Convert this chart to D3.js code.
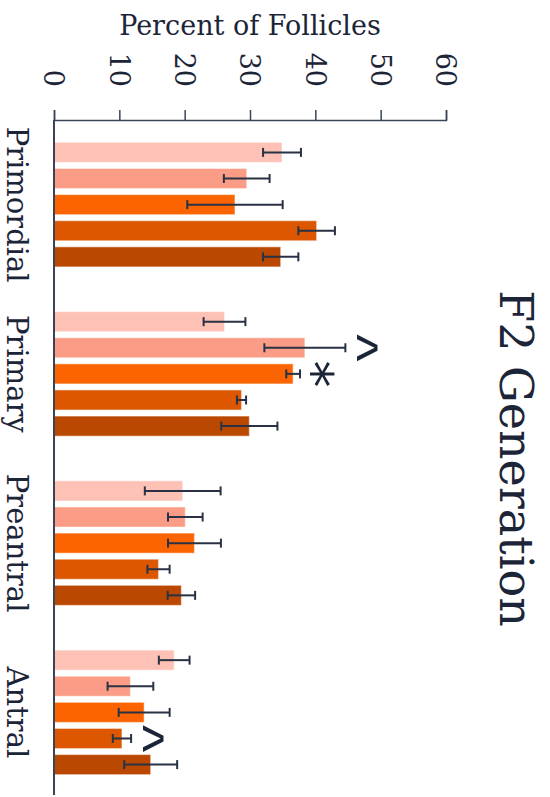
<!DOCTYPE html>
<html>
<head>
<meta charset="utf-8">
<script src="https://cdn.jsdelivr.net/npm/d3@7"></script>
<style>
  html, body { margin: 0; padding: 0; background: #fff; }
  svg { display: block; }
</style>
</head>
<body>
<div class="chart"></div>
<script>
// follicle stages (one group of bars each)
const categories = ['Primordial', 'Primary', 'Preantral', 'Antral'];
// five treatment series per stage, light to dark
const seriesKeys = ['s1', 's2', 's3', 's4', 's5'];
const seriesColors = ['#fdc1b5', '#fb9c86', '#fb6400', '#dc5700', '#bb4800'];

// mean percent, rows follow categories, columns follow seriesKeys
const means = [
  [34.9, 29.5, 27.7, 40.2, 34.7],
  [26.1, 38.4, 36.6, 28.7, 29.9],
  [19.7, 20.1, 21.5, 16.0, 19.5],
  [18.4, 11.7, 13.8, 10.4, 14.8]
];
// +/- error
const errors = [
  [2.9, 3.5, 7.3, 2.8, 2.7],
  [3.2, 6.2, 1.05, 0.7, 4.3],
  [5.8, 2.65, 4.05, 1.7, 2.1],
  [2.35, 3.5, 3.9, 1.4, 4.05]
];
const xTicks = [0, 10, 20, 30, 40, 50, 60];

// significance marks: category, series, symbol
const marks = [
  { cat: 'Primary', key: 's2', symbol: '^' },
  { cat: 'Primary', key: 's3', symbol: '*' },
  { cat: 'Antral', key: 's4', symbol: '^' }
];

const width = 550, height = 797;
const textColor = '#1c2538';
const axisColor = '#3a4356';
const serif = '"DejaVu Serif", serif';

const rows = [];
categories.forEach((c, i) => {
  seriesKeys.forEach((k, j) => {
    rows.push({ cat: c, key: k, value: means[i][j], err: errors[i][j] });
  });
});

const svg = d3.select('.chart').append('svg')
  .attr('width', width)
  .attr('height', height);

const x = d3.scaleLinear().domain([0, 60]).range([54, 446]);
const y0 = d3.scaleBand().domain(categories).range([120, 797])
  .paddingInner(0.264).paddingOuter(0.132);
const y1 = d3.scaleBand().domain(seriesKeys).range([0, y0.bandwidth()])
  .paddingInner(0.23).paddingOuter(0);
const color = d3.scaleOrdinal().domain(seriesKeys).range(seriesColors);

// bars
const groups = svg.append('g')
  .selectAll('g')
  .data(categories)
  .enter().append('g')
  .attr('transform', d => 'translate(0,' + y0(d) + ')');

groups.selectAll('rect')
  .data(c => rows.filter(r => r.cat === c))
  .enter().append('rect')
  .attr('x', x(0))
  .attr('y', d => y1(d.key))
  .attr('width', d => x(d.value) - x(0))
  .attr('height', y1.bandwidth())
  .attr('fill', d => color(d.key))
  .attr('stroke', '#fff')
  .attr('stroke-opacity', 0.45)
  .attr('stroke-width', 1.2);

// error bars
const eb = groups.selectAll('g.err')
  .data(c => rows.filter(r => r.cat === c))
  .enter().append('g')
  .attr('class', 'err')
  .attr('stroke', '#283244')
  .attr('stroke-width', 2)
  .attr('transform', d => 'translate(0,' + (y1(d.key) + y1.bandwidth() / 2) + ')');

eb.append('line')
  .attr('x1', d => x(d.value - d.err))
  .attr('x2', d => x(d.value + d.err));
eb.append('line')
  .attr('x1', d => x(d.value - d.err)).attr('x2', d => x(d.value - d.err))
  .attr('y1', -4.5).attr('y2', 4.5);
eb.append('line')
  .attr('x1', d => x(d.value + d.err)).attr('x2', d => x(d.value + d.err))
  .attr('y1', -4.5).attr('y2', 4.5);

// value axis along the top
const axis = svg.append('g')
  .attr('transform', 'translate(0,120)')
  .call(d3.axisTop(x).tickValues(xTicks).tickSize(10).tickSizeOuter(10));
axis.select('.domain').attr('stroke', axisColor).attr('stroke-width', 1.5);
axis.selectAll('.tick line').attr('stroke', axisColor).attr('stroke-width', 1.5);
axis.selectAll('.tick text')
  .attr('fill', textColor)
  .attr('font-family', serif)
  .attr('font-size', 27)
  .attr('text-anchor', 'end')
  .attr('x', 0).attr('y', 0)
  .attr('dy', '0.38em')
  .attr('transform', 'translate(0,-33) rotate(90)');

// category axis line on the left
svg.append('line')
  .attr('x1', x(0)).attr('x2', x(0))
  .attr('y1', 120).attr('y2', 795)
  .attr('stroke', axisColor)
  .attr('stroke-width', 2);

svg.append('g')
  .selectAll('text')
  .data(categories)
  .enter().append('text')
  .attr('transform', d => 'translate(7,' + (y0(d) + y0.bandwidth() / 2) + ') rotate(90)')
  .attr('text-anchor', 'middle')
  .attr('fill', textColor)
  .attr('font-family', serif)
  .attr('font-size', 29)
  .text(d => d);

// axis title
svg.append('text')
  .attr('x', (x(0) + x(60)) / 2)
  .attr('y', 35)
  .attr('text-anchor', 'middle')
  .attr('fill', textColor)
  .attr('font-family', serif)
  .attr('font-size', 27)
  .text('Percent of Follicles');

// chart title, down the right side
svg.append('text')
  .attr('transform', 'translate(500,' + ((120 + 797) / 2) + ') rotate(90)')
  .attr('text-anchor', 'middle')
  .attr('fill', textColor)
  .attr('font-family', serif)
  .attr('font-size', 46)
  .text('F2 Generation');

// significance marks just past the error bar
svg.append('g')
  .selectAll('text')
  .data(marks)
  .enter().append('text')
  .attr('transform', m => {
    const r = rows.find(d => d.cat === m.cat && d.key === m.key);
    const off = m.symbol === '*' ? -5 : -7;
    const cy = y0(m.cat) + y1(m.key) + y1.bandwidth() / 2;
    return 'translate(' + (x(r.value + r.err) + off) + ',' + cy + ') rotate(90)';
  })
  .attr('text-anchor', 'middle')
  .attr('fill', textColor)
  .attr('font-family', m => m.symbol === '*' ? '"DejaVu Sans", sans-serif' : '"Liberation Sans", sans-serif')
  .attr('font-size', m => m.symbol === '*' ? 54 : 58)
  .text(m => m.symbol);
</script>
</body>
</html>
